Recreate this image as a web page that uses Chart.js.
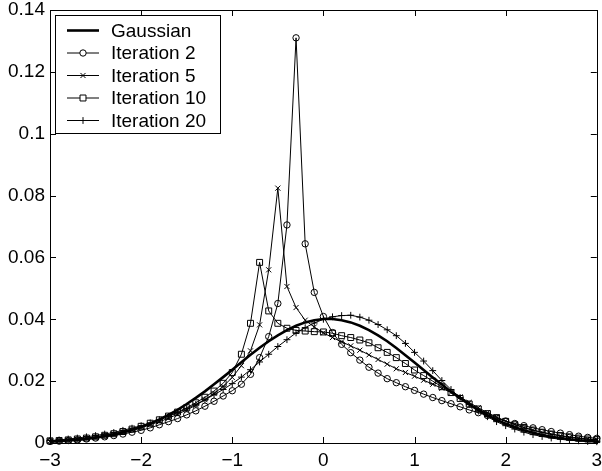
<!DOCTYPE html>
<html>
<head>
<meta charset="utf-8">
<script src="https://cdn.jsdelivr.net/npm/chart.js@4/dist/chart.umd.min.js"></script>
<style>
  body { margin: 0; background: #fff; }
  #wrap { width: 602px; height: 471px; }
</style>
</head>
<body>
<div id="wrap"><canvas id="chart" width="602" height="471"></canvas></div>
<script>
// x positions (step 0.1)
const xs = [-3.0, -2.9, -2.8, -2.7, -2.6, -2.5, -2.4, -2.3, -2.2, -2.1,
    -2.0, -1.9, -1.8, -1.7, -1.6, -1.5, -1.4, -1.3, -1.2, -1.1,
    -1.0, -0.9, -0.8, -0.7, -0.6, -0.5, -0.4, -0.3, -0.2, -0.1,
    0.0, 0.1, 0.2, 0.3, 0.4, 0.5, 0.6, 0.7, 0.8, 0.9,
    1.0, 1.1, 1.2, 1.3, 1.4, 1.5, 1.6, 1.7, 1.8, 1.9,
    2.0, 2.1, 2.2, 2.3, 2.4, 2.5, 2.6, 2.7, 2.8, 2.9, 3.0];

const gaussian = [0.0004, 0.0006, 0.0008, 0.0010, 0.0013, 0.0017, 0.0022, 0.0027, 0.0034, 0.0042,
    0.0052, 0.0063, 0.0076, 0.0091, 0.0107, 0.0126, 0.0146, 0.0167, 0.0190, 0.0213,
    0.0237, 0.0261, 0.0285, 0.0308, 0.0329, 0.0348, 0.0365, 0.0379, 0.0390, 0.0397,
    0.0401, 0.0401, 0.0397, 0.0390, 0.0379, 0.0365, 0.0348, 0.0329, 0.0307, 0.0284,
    0.0260, 0.0236, 0.0212, 0.0189, 0.0166, 0.0145, 0.0125, 0.0107, 0.0090, 0.0075,
    0.0062, 0.0051, 0.0041, 0.0033, 0.0026, 0.0020, 0.0016, 0.0012, 0.0009, 0.0007, 0.0005];

const iter2 = [0.0005, 0.0006, 0.0008, 0.0010, 0.0013, 0.0016, 0.0020, 0.0024, 0.0029, 0.0035,
    0.0041, 0.0049, 0.0059, 0.0069, 0.0079, 0.0091, 0.0104, 0.0119, 0.0135, 0.0152,
    0.0169, 0.0190, 0.0222, 0.0276, 0.0344, 0.0451, 0.0705, 0.1310, 0.0644, 0.0487,
    0.0409, 0.0357, 0.0319, 0.0292, 0.0268, 0.0245, 0.0226, 0.0208, 0.0195, 0.0182,
    0.0170, 0.0158, 0.0147, 0.0137, 0.0127, 0.0117, 0.0107, 0.0098, 0.0089, 0.0080,
    0.0071, 0.0063, 0.0056, 0.0049, 0.0043, 0.0037, 0.0032, 0.0027, 0.0022, 0.0018, 0.0015];

const iter5 = [0.0006, 0.0007, 0.0009, 0.0012, 0.0015, 0.0019, 0.0024, 0.0029, 0.0035, 0.0042,
    0.0050, 0.0059, 0.0069, 0.0080, 0.0093, 0.0107, 0.0122, 0.0140, 0.0160, 0.0183,
    0.0212, 0.0250, 0.0298, 0.0382, 0.0560, 0.0824, 0.0506, 0.0438, 0.0397, 0.0375,
    0.0356, 0.0341, 0.0327, 0.0314, 0.0300, 0.0285, 0.0270, 0.0255, 0.0240, 0.0228,
    0.0216, 0.0203, 0.0190, 0.0177, 0.0163, 0.0149, 0.0131, 0.0114, 0.0098, 0.0084,
    0.0071, 0.0060, 0.0050, 0.0041, 0.0034, 0.0028, 0.0023, 0.0018, 0.0015, 0.0012, 0.0010];

const iter10 = [0.0007, 0.0008, 0.0010, 0.0013, 0.0016, 0.0020, 0.0025, 0.0030, 0.0037, 0.0045,
    0.0054, 0.0064, 0.0075, 0.0087, 0.0100, 0.0114, 0.0130, 0.0148, 0.0168, 0.0193,
    0.0228, 0.0287, 0.0387, 0.0584, 0.0427, 0.0387, 0.0371, 0.0364, 0.0362, 0.0360,
    0.0359, 0.0355, 0.0347, 0.0341, 0.0333, 0.0324, 0.0308, 0.0293, 0.0276, 0.0257,
    0.0236, 0.0218, 0.0200, 0.0182, 0.0163, 0.0144, 0.0126, 0.0110, 0.0095, 0.0082,
    0.0070, 0.0059, 0.0050, 0.0042, 0.0035, 0.0029, 0.0024, 0.0020, 0.0016, 0.0013, 0.0011];

const iter20 = [0.0008, 0.0010, 0.0013, 0.0016, 0.0020, 0.0024, 0.0029, 0.0034, 0.0041, 0.0048,
    0.0056, 0.0065, 0.0075, 0.0086, 0.0098, 0.0111, 0.0125, 0.0140, 0.0156, 0.0173,
    0.0192, 0.0213, 0.0237, 0.0262, 0.0287, 0.0312, 0.0334, 0.0356, 0.0373, 0.0388,
    0.0400, 0.0408, 0.0412, 0.0413, 0.0407, 0.0397, 0.0383, 0.0366, 0.0347, 0.0322,
    0.0293, 0.0265, 0.0234, 0.0202, 0.0173, 0.0147, 0.0124, 0.0103, 0.0085, 0.0069,
    0.0056, 0.0045, 0.0035, 0.0027, 0.0021, 0.0016, 0.0012, 0.0009, 0.0007, 0.0005, 0.0004];

const seriesLabels = ['Gaussian', 'Iteration 2', 'Iteration 5', 'Iteration 10', 'Iteration 20'];

const xTickValues = [-3, -2, -1, 0, 1, 2, 3];
const xTickLabels = ['\u22123', '\u22122', '\u22121', '0', '1', '2', '3'];
const yTickValues = [0, 0.02, 0.04, 0.06, 0.08, 0.1, 0.12, 0.14];
const yTickLabels = ['0', '0.02', '0.04', '0.06', '0.08', '0.1', '0.12', '0.14'];

function pts(ys) {
    return xs.map((x, i) => ({ x: x, y: ys[i] }));
}

Chart.defaults.font.family = '"Liberation Sans", Arial, Helvetica, sans-serif';
Chart.defaults.font.size = 19;
Chart.defaults.color = '#000';

function lineSet(label, ys, style, radius, width) {
    return {
        label: label,
        data: pts(ys),
        borderColor: '#000',
        borderWidth: width,
        backgroundColor: 'rgba(0,0,0,0)',
        pointStyle: style,
        pointRadius: radius,
        pointBorderColor: '#000',
        pointBorderWidth: 1,
        pointBackgroundColor: 'rgba(0,0,0,0)',
        tension: 0,
        clip: false
    };
}

const datasets = [
    lineSet(seriesLabels[0], gaussian, false, 0, 2.6),
    lineSet(seriesLabels[1], iter2, 'circle', 3.2, 1),
    lineSet(seriesLabels[2], iter5, 'crossRot', 3.6, 1),
    lineSet(seriesLabels[3], iter10, 'rect', 4.2, 1),
    lineSet(seriesLabels[4], iter20, 'cross', 3.4, 1)
];

// box frame + inward ticks on all four sides (matlab style)
const framePlugin = {
    id: 'frame',
    afterDatasetsDraw(chart) {
        const ctx = chart.ctx;
        const a = chart.chartArea;
        const xs_ = chart.scales.x, ys_ = chart.scales.y;
        const tl = 6;
        ctx.save();
        ctx.strokeStyle = '#000';
        ctx.lineWidth = 1;
        ctx.beginPath();
        xTickValues.forEach(v => {
            const px = Math.round(xs_.getPixelForValue(v)) + 0.5;
            ctx.moveTo(px, a.bottom); ctx.lineTo(px, a.bottom - tl);
            ctx.moveTo(px, a.top); ctx.lineTo(px, a.top + tl);
        });
        yTickValues.forEach(v => {
            const py = Math.round(ys_.getPixelForValue(v)) + 0.5;
            ctx.moveTo(a.left, py); ctx.lineTo(a.left + tl, py);
            ctx.moveTo(a.right, py); ctx.lineTo(a.right - tl, py);
        });
        ctx.stroke();
        ctx.strokeRect(Math.round(a.left) + 0.5, Math.round(a.top) + 0.5,
            Math.round(a.right - a.left), Math.round(a.bottom - a.top));
        ctx.restore();
    }
};

// legend drawn inside the plot, top-left, like matlab
const legendPlugin = {
    id: 'boxLegend',
    afterDraw(chart) {
        const ctx = chart.ctx;
        const a = chart.chartArea;
        const bx = a.left + 5, by = a.top + 5, bw = 165, bh = 118;
        ctx.save();
        ctx.fillStyle = '#fff';
        ctx.fillRect(bx, by, bw, bh);
        ctx.strokeStyle = '#000';
        ctx.lineWidth = 1;
        ctx.strokeRect(bx + 0.5, by + 0.5, bw, bh);
        ctx.font = '19px "Liberation Sans", Arial, sans-serif';
        ctx.textBaseline = 'middle';
        chart.data.datasets.forEach((ds, i) => {
            const y = by + 15.5 + i * 22.5;
            ctx.beginPath();
            ctx.lineWidth = ds.borderWidth;
            ctx.moveTo(bx + 12, y);
            ctx.lineTo(bx + 44, y);
            ctx.stroke();
            if (ds.pointStyle) {
                ctx.lineWidth = 1;
                ctx.fillStyle = '#fff';
                Chart.helpers.drawPoint(ctx, {
                    pointStyle: ds.pointStyle,
                    radius: ds.pointRadius,
                    borderWidth: 1
                }, bx + 28, y);
            }
            ctx.fillStyle = '#000';
            ctx.fillText(ds.label, bx + 56, y + 1);
        });
        ctx.restore();
    }
};

new Chart(document.getElementById('chart'), {
    type: 'line',
    data: { datasets: datasets },
    options: {
        responsive: false,
        animation: false,
        layout: { padding: { top: 10, right: 3, left: 0, bottom: 0 } },
        plugins: {
            legend: { display: false },
            tooltip: { enabled: false }
        },
        scales: {
            x: {
                type: 'linear',
                min: -3,
                max: 3,
                grid: { display: false, drawTicks: false },
                border: { display: false },
                afterBuildTicks: (scale) => { scale.ticks = xTickValues.map(v => ({ value: v })); },
                ticks: {
                    padding: 6,
                    maxRotation: 0,
                    callback: (v) => xTickLabels[xTickValues.indexOf(v)]
                },
                afterFit: (scale) => {
                    scale.height = 28;
                    scale.paddingLeft = 0;
                    scale.paddingRight = 0;
                }
            },
            y: {
                type: 'linear',
                min: 0,
                max: 0.14,
                grid: { display: false, drawTicks: false },
                border: { display: false },
                afterBuildTicks: (scale) => { scale.ticks = yTickValues.map(v => ({ value: v })); },
                ticks: {
                    padding: 5,
                    callback: (v) => {
                        const i = yTickValues.findIndex(t => Math.abs(t - v) < 1e-9);
                        return i >= 0 ? yTickLabels[i] : '';
                    }
                },
                afterFit: (scale) => {
                    scale.width = 50;
                    scale.paddingTop = 0;
                    scale.paddingBottom = 0;
                }
            }
        }
    },
    plugins: [framePlugin, legendPlugin]
});
</script>
</body>
</html>
